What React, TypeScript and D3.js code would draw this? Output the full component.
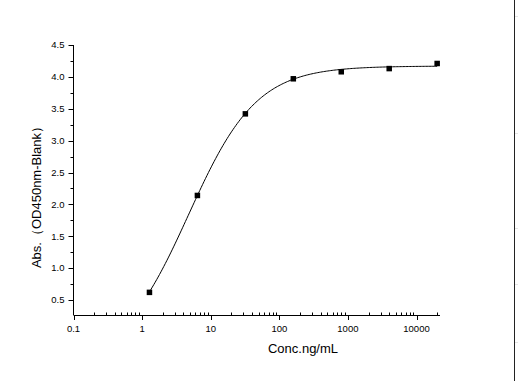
import React from "react";
import * as d3 from "d3";

const concentrations = [1.28, 6.4, 32, 160, 800, 4000, 20000];
const absorbance = [0.62, 2.14, 3.42, 3.97, 4.08, 4.13, 4.21];
const xTickValues = [0.1, 1, 10, 100, 1000, 10000];
const xTickLabels = ["0.1", "1", "10", "100", "1000", "10000"];
const yTickValues = [0.5, 1.0, 1.5, 2.0, 2.5, 3.0, 3.5, 4.0, 4.5];
const yTickLabels = ["0.5", "1.0", "1.5", "2.0", "2.5", "3.0", "3.5", "4.0", "4.5"];
const yMinorValues = [0.75, 1.25, 1.75, 2.25, 2.75, 3.25, 3.75, 4.25];
// 4-parameter logistic fit parameters
const fitBottom = -0.5;
const fitTop = 4.17;
const fitEC50 = 4.74;
const fitHill = 0.873;

const W = 518;
const H = 381;
const left = 73.5;
const right = 440;
const top = 45;
const bottom = 315;

export default function App() {
  const x = d3.scaleLog().domain([0.1, 22000]).range([left, right]);
  const y = d3.scaleLinear().domain([0.265, 4.5]).range([bottom, top]);

  const minorX: number[] = [];
  for (let e = -1; e <= 4; e++) {
    for (let m = 2; m <= 9; m++) {
      const v = m * Math.pow(10, e);
      if (v <= 22000) minorX.push(v);
    }
  }

  const model = (c: number) => fitTop + (fitBottom - fitTop) / (1 + Math.pow(c / fitEC50, fitHill));
  const lo = Math.log10(concentrations[0]);
  const hi = Math.log10(concentrations[concentrations.length - 1]);
  const curvePts: [number, number][] = d3.range(0, 201).map((i) => {
    const c = Math.pow(10, lo + ((hi - lo) * i) / 200);
    return [x(c), y(model(c))];
  });
  const line = d3.line().curve(d3.curveLinear)(curvePts) || "";

  const font = "Arial, 'Liberation Sans', sans-serif";

  return (
    <svg
      width={W}
      height={H}
      style={{ position: "fixed", left: 0, top: 0, background: "#fff" }}
      fontFamily={font}
    >
      <rect x={0} y={0} width={W} height={H} fill="#fff" />
      {/* right frame line */}
      <line x1={514.5} x2={514.5} y1={0} y2={H} stroke="#222" strokeWidth={1} />
      {[16, 133, 228, 284, 342].map((yy) => (
        <line key={yy} x1={515} x2={518} y1={yy + 0.5} y2={yy + 0.5} stroke="#e4e4e4" />
      ))}

      {/* axes */}
      <line x1={left} x2={left} y1={top} y2={bottom} stroke="#000" />
      <line x1={left} x2={right} y1={bottom + 0.5} y2={bottom + 0.5} stroke="#000" />

      {/* y ticks */}
      {yTickValues.map((v, i) => (
        <g key={"yt" + i}>
          <line x1={left - 5} x2={left} y1={Math.round(y(v)) + 0.5} y2={Math.round(y(v)) + 0.5} stroke="#000" />
          <text x={left - 9} y={y(v)} dy="0.35em" textAnchor="end" fontSize={9.5} fill="#000">
            {yTickLabels[i]}
          </text>
        </g>
      ))}
      {yMinorValues.map((v, i) => (
        <line key={"ym" + i} x1={left - 3} x2={left} y1={Math.round(y(v)) + 0.5} y2={Math.round(y(v)) + 0.5} stroke="#000" />
      ))}

      {/* x ticks */}
      {xTickValues.map((v, i) => (
        <g key={"xt" + i}>
          <line x1={Math.round(x(v)) + 0.5} x2={Math.round(x(v)) + 0.5} y1={bottom} y2={bottom + 5} stroke="#000" />
          <text x={x(v)} y={bottom + 17} textAnchor="middle" fontSize={9.5} fill="#000">
            {xTickLabels[i]}
          </text>
        </g>
      ))}
      {minorX.map((v, i) => (
        <line key={"xm" + i} x1={Math.round(x(v)) + 0.5} x2={Math.round(x(v)) + 0.5} y1={bottom - 2.5} y2={bottom} stroke="#000" />
      ))}

      {/* titles */}
      <text x={303} y={353} textAnchor="middle" fontSize={13} fill="#000">
        Conc.ng/mL
      </text>
      <text
        transform={`translate(41, ${(top + bottom) / 2 + 14}) rotate(-90)`}
        textAnchor="middle"
        fontSize={13}
        fill="#000"
      >
        Abs.（OD450nm-Blank）
      </text>

      {/* fitted curve */}
      <path d={line} fill="none" stroke="#000" strokeWidth={1} />

      {/* points */}
      {concentrations.map((c, i) => (
        <rect key={"p" + i} x={x(c) - 2.75} y={y(absorbance[i]) - 2.75} width={5.5} height={5.5} fill="#000" />
      ))}
    </svg>
  );
}
